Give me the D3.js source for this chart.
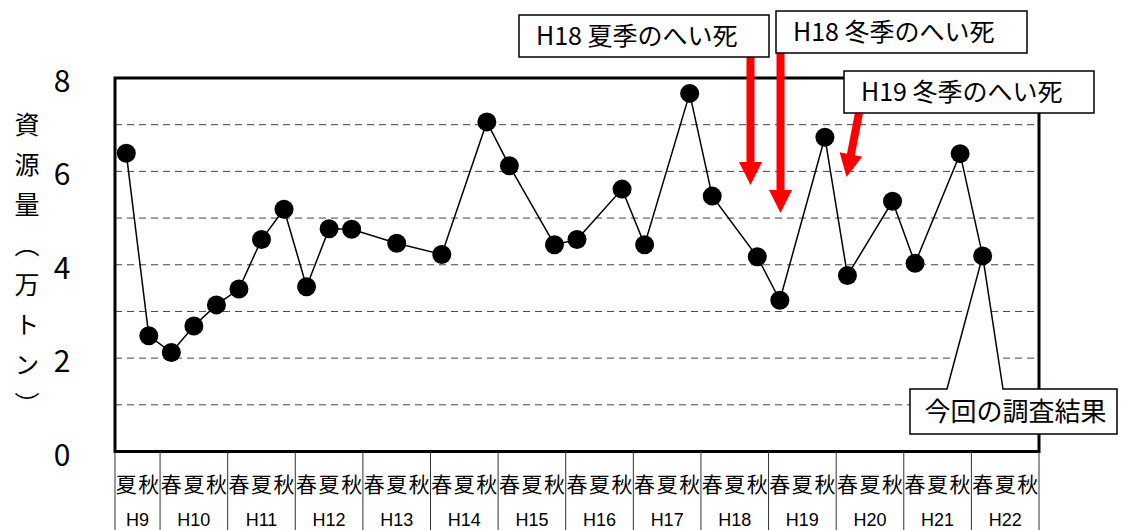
<!DOCTYPE html>
<html><head><meta charset="utf-8">
<script src="https://cdn.jsdelivr.net/npm/d3@7"></script>
<style>
html,body{margin:0;padding:0;background:#fff;}
svg{display:block;}
text{font-family:"Noto Sans CJK JP","Noto Sans",sans-serif;fill:#000;}
</style></head><body>
<svg id="chart" width="1124" height="530"></svg>
<script>
// ---- data ----
const yearLabels = ["H9","H10","H11","H12","H13","H14","H15","H16","H17","H18","H19","H20","H21","H22"];
const firstYearSeasons = ["夏","秋"];
const seasonLabels = ["春","夏","秋"];
// 資源量（万トン）, one entry per season cell (null = no survey)
const values = [
  6.39, 2.48,              // H9 夏 秋
  2.12, 2.69, 3.14,        // H10
  3.48, 4.54, 5.19,        // H11
  3.53, 4.77, 4.76,        // H12
  null, 4.46, null,        // H13
  4.22, null, 7.06,        // H14
  6.12, null, 4.43,        // H15
  4.54, null, 5.62,        // H16
  4.43, null, 7.67,        // H17
  5.47, null, 4.17,        // H18
  3.24, null, 6.73,        // H19
  3.77, null, 5.36,        // H20
  4.03, null, 6.38,        // H21
  4.19, null, null         // H22
];
const yTickValues = [0, 2, 4, 6, 8];
const gridValues = [1, 2, 3, 4, 5, 6, 7];
const yTitle = "資源量（万トン）";
const currentNote = "今回の調査結果";
const eventNotes = ["H18 夏季のへい死", "H18 冬季のへい死", "H19 冬季のへい死"];

// ---- layout ----
const W = 1124, H = 530;
const plot = {left: 115, right: 1039, top: 78, bottom: 451.5};
const eventBoxes = [
  {x: 519, y: 15, w: 250, h: 42},
  {x: 776, y: 11, w: 251, h: 42},
  {x: 844, y: 71, w: 250, h: 42}
];
const eventArrows = [
  {x1: 750.5, y1: 57, x2: 750.5, y2: 185},
  {x1: 780.5, y1: 53, x2: 780.5, y2: 213},
  {x1: 859, y1: 113, x2: 846.5, y2: 177}
];
const currentBox = {x: 910, y: 389, w: 207, h: 45, wedgeL: 947, wedgeR: 1003};

const categories = yearLabels.flatMap((yr, i) =>
  (i === 0 ? firstYearSeasons : seasonLabels).map(s => ({year: yr, season: s})));

const svg = d3.select("#chart");
svg.append("rect").attr("width", W).attr("height", H).attr("fill", "#fff");

const x = d3.scaleBand().domain(d3.range(categories.length))
  .range([plot.left, plot.right]).paddingInner(0).paddingOuter(0);
const bw = x.bandwidth();
const cx = i => x(i) + bw / 2;
const y = d3.scaleLinear().domain([0, 8]).range([plot.bottom, plot.top]);

// gridlines
svg.append("g").selectAll("line").data(gridValues).join("line")
  .attr("x1", plot.left).attr("x2", plot.right)
  .attr("y1", d => y(d)).attr("y2", d => y(d))
  .attr("stroke", "#444").attr("stroke-width", 1).attr("stroke-dasharray", "7,5");

// plot border
svg.append("rect").attr("x", plot.left).attr("y", plot.top)
  .attr("width", plot.right - plot.left).attr("height", plot.bottom - plot.top)
  .attr("fill", "none").attr("stroke", "#000").attr("stroke-width", 3);

// y axis labels
const yAxis = d3.axisLeft(y).tickValues(yTickValues).tickSize(0).tickPadding(0);
const gy = svg.append("g").attr("transform", "translate(62,4)").call(yAxis);
gy.select(".domain").remove();
gy.selectAll("text").attr("text-anchor", "middle").attr("x", 0)
  .style("font-family", '"Noto Sans CJK JP", sans-serif').style("font-size", "30px").attr("fill", "#000");

// y title (vertical)
svg.append("text").attr("x", 27).attr("y", 112)
  .style("writing-mode", "vertical-rl").style("font-size", "25px")
  .style("letter-spacing", "15px")
  .text(yTitle);

// category axis: separators, season labels, year labels
const groups = yearLabels.map(yr => {
  const idx = categories.map((c, i) => c.year === yr ? i : -1).filter(i => i >= 0);
  return {year: yr, x0: x(idx[0]), x1: x(idx[idx.length - 1]) + bw};
});
const bounds = [plot.left, ...groups.map(g => g.x1)];
svg.append("g").selectAll("line").data(bounds).join("line")
  .attr("x1", d => d).attr("x2", d => d).attr("y1", plot.bottom).attr("y2", H)
  .attr("stroke", "#333").attr("stroke-width", 1);
svg.append("g").selectAll("text").data(categories).join("text")
  .attr("x", (d, i) => cx(i)).attr("y", 485).attr("dy", "0.35em")
  .attr("text-anchor", "middle").style("font-size", "21px").text(d => d.season);
svg.append("g").selectAll("text").data(groups).join("text")
  .attr("x", d => (d.x0 + d.x1) / 2).attr("y", 525.5)
  .attr("text-anchor", "middle")
  .style("font-family", '"Liberation Sans", Arial, sans-serif').style("font-size", "18px")
  .text(d => d.year);

// series
const pts = values.map((v, i) => ({i, v})).filter(d => d.v != null);
const last = pts[pts.length - 1];

// current-result callout (drawn under the line/points)
const b = currentBox;
const ax = cx(last.i), ay = y(last.v);
svg.append("path")
  .attr("d", `M${b.x},${b.y} L${b.wedgeL},${b.y} L${ax},${ay} L${b.wedgeR},${b.y} L${b.x + b.w},${b.y} L${b.x + b.w},${b.y + b.h} L${b.x},${b.y + b.h} Z`)
  .attr("fill", "#fff").attr("stroke", "#000").attr("stroke-width", 1.5);
svg.append("text").attr("x", b.x + b.w / 2 + 2).attr("y", b.y + b.h / 2).attr("dy", "0.36em")
  .attr("text-anchor", "middle").style("font-size", "26px").text(currentNote);

const line = d3.line().x(d => cx(d.i)).y(d => y(d.v));
svg.append("path").datum(pts).attr("d", line)
  .attr("fill", "none").attr("stroke", "#000").attr("stroke-width", 1.5);
svg.append("g").selectAll("circle").data(pts).join("circle")
  .attr("cx", d => cx(d.i)).attr("cy", d => y(d.v)).attr("r", 9.5).attr("fill", "#000");

// red arrows
function arrowPath(a, shaft = 4, head = 11.5, headLen = 23) {
  const dx = a.x2 - a.x1, dy = a.y2 - a.y1, L = Math.hypot(dx, dy);
  const ux = dx / L, uy = dy / L, nx = -uy, ny = ux;
  const bx = a.x2 - ux * headLen, by = a.y2 - uy * headLen;
  const p = [
    [a.x1 + nx * shaft, a.y1 + ny * shaft],
    [bx + nx * shaft, by + ny * shaft],
    [bx + nx * head, by + ny * head],
    [a.x2, a.y2],
    [bx - nx * head, by - ny * head],
    [bx - nx * shaft, by - ny * shaft],
    [a.x1 - nx * shaft, a.y1 - ny * shaft]
  ];
  return "M" + p.map(q => q.join(",")).join("L") + "Z";
}
svg.append("g").selectAll("path").data(eventArrows).join("path")
  .attr("d", d => arrowPath(d)).attr("fill", "#ff0000");

// event boxes
const eb = svg.append("g").selectAll("g").data(eventBoxes).join("g");
eb.append("rect").attr("x", d => d.x).attr("y", d => d.y).attr("width", d => d.w).attr("height", d => d.h)
  .attr("fill", "#fff").attr("stroke", "#000").attr("stroke-width", 1.5);
eb.append("text").attr("x", d => d.x + 17).attr("y", d => d.y + d.h / 2).attr("dy", "0.36em")
  .style("font-size", "25px").text((d, i) => eventNotes[i]);
</script>
</body></html>
